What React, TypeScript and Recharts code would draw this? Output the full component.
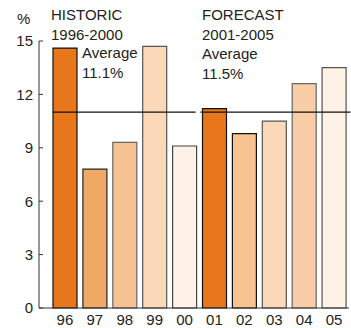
import { Bar, BarChart, Cell, Customized, ReferenceLine, XAxis, YAxis } from "recharts"

const years = ["96", "97", "98", "99", "00", "01", "02", "03", "04", "05"]
const growth = [14.6, 7.8, 9.3, 14.7, 9.1, 11.2, 9.8, 10.5, 12.6, 13.5]
const barFills = [
  "#e8761a", "#f0a865", "#f7c291", "#fbd9b8", "#fef1e6",
  "#e8761a", "#f8c291", "#fbd9b8", "#f9cda5", "#fef1e6",
]
const barStrokes = [
  "#111", "#222", "#666", "#555", "#444",
  "#111", "#111", "#555", "#666", "#555",
]
const yTicks = [0, 3, 6, 9, 12, 15]

// average lines drawn as two segments on a hidden numeric axis (band index units)
const averageLevel = 11.0
const historicSpan = [0.1, 4.87]
const forecastSpan = [5.03, 10.05]

const historicNote = ["HISTORIC", "1996-2000"]
const historicAvg = ["Average", "11.1%"]
const forecastNote = ["FORECAST", "2001-2005", "Average", "11.5%"]

const data = years.map((year, i) => ({ year, idx: i + 0.5, value: growth[i] }))

const font = "'Liberation Sans', Arial, Helvetica, sans-serif"

function Annotations() {
  const textProps = { fontFamily: font, fontSize: 15, fill: "#222" }
  return (
    <g>
      <text x={17} y={24} {...textProps}>%</text>
      {historicNote.map((t, i) => (
        <text key={t} x={51} y={20 + i * 20} {...textProps}>{t}</text>
      ))}
      {historicAvg.map((t, i) => (
        <text key={t} x={82} y={58 + i * 20} {...textProps}>{t}</text>
      ))}
      {forecastNote.map((t, i) => (
        <text key={t} x={202} y={20 + i * 19.5} {...textProps}>{t}</text>
      ))}
    </g>
  )
}

export default function App() {
  return (
    <div style={{ position: "absolute", left: 0, top: 0, background: "#fff" }}>
      <BarChart
        width={351}
        height={328}
        data={data}
        margin={{ top: 41, right: 2, bottom: 0, left: 0 }}
        barCategoryGap={3}
      >
        <XAxis
          dataKey="year"
          padding={{ left: 11, right: 0 }}
          height={20}
          tickLine={false}
          tickSize={0}
          tickMargin={6}
          interval={0}
          stroke="#333"
          tick={{ fill: "#222", fontSize: 15, fontFamily: font }}
        />
        <XAxis
          xAxisId="num"
          type="number"
          dataKey="idx"
          domain={[0, 10]}
          padding={{ left: 11, right: 0 }}
          hide
        />
        <YAxis
          domain={[0, 15]}
          ticks={yTicks}
          width={39}
          tickSize={-4}
          tickMargin={10}
          stroke="#333"
          tick={{ fill: "#222", fontSize: 15, fontFamily: font }}
        />
        <Bar dataKey="value" barSize={24} isAnimationActive={false}>
          {data.map((d, i) => (
            <Cell key={d.year} fill={barFills[i]} stroke={barStrokes[i]} strokeWidth={1.2} />
          ))}
        </Bar>
        <ReferenceLine
          xAxisId="num"
          ifOverflow="visible"
          stroke="#111"
          strokeWidth={1.2}
          segment={[
            { x: historicSpan[0], y: averageLevel },
            { x: historicSpan[1], y: averageLevel },
          ]}
        />
        <ReferenceLine
          xAxisId="num"
          ifOverflow="visible"
          stroke="#111"
          strokeWidth={1.2}
          segment={[
            { x: forecastSpan[0], y: averageLevel },
            { x: forecastSpan[1], y: averageLevel },
          ]}
        />
        <Customized component={Annotations} />
      </BarChart>
    </div>
  )
}
